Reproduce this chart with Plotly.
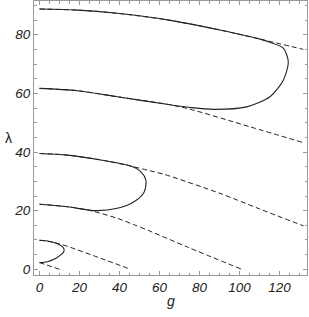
import plotly.graph_objects as go

# Solid tongues (g, lambda), traced from upper start round the tip to lower start
t1_g = [0, 3, 5.6, 8, 9.75, 11.3, 12.25, 12.0, 10.6, 9.0, 7.25, 4.0, 0]
t1_l = [9.9, 9.75, 9.4, 9.0, 8.5, 7.8, 6.9, 5.8, 4.9, 4.1, 3.4, 2.6, 2.25]

t2_g = [0, 13.9, 30.6, 45.6, 50.6, 53.2, 52.3, 47.25, 38.9, 28.1, 13.9, 0]
t2_l = [39.5, 38.95, 37.3, 35.2, 33.3, 30.4, 26.3, 23.05, 20.8, 20.0, 21.35, 22.2]

t3_g = [0, 18.9, 38.9, 65.4, 90.25, 110.25, 115.25, 121.9, 124.4, 121.9, 115.25, 103.6, 86.9, 75.25, 65.4, 38.9, 18.9, 0]
t3_l = [88.75, 88.4, 87.3, 84.9, 81.6, 78.5, 77.4, 75.4, 70.8, 64.5, 58.85, 55.4, 54.55, 55.2, 56.1, 58.85, 60.9, 61.7]

# Dashed curves
d1_g = [0, 10]
d1_l = [2.3, 0]
d2_g = [0, 5.6, 9.75, 13.1, 30.6, 45.6]
d2_l = [9.9, 9.4, 8.7, 8.05, 3.75, 0]
d3_g = [0, 13.9, 30.6, 45.6, 55.25, 62.25, 90.25, 110, 132]
d3_l = [39.5, 38.95, 37.3, 35.2, 33.6, 32.4, 25.9, 20.6, 14.8]
d4_g = [0, 13.9, 25, 38.9, 46.9, 55, 73.6, 101.1]
d4_l = [22.2, 21.35, 20.1, 17.4, 15.3, 13.1, 7.7, 0]
d5_g = [0, 18.9, 38.9, 65.4, 90.25, 110.25, 131.9]
d5_l = [88.75, 88.4, 87.3, 84.9, 81.6, 78.5, 75.0]
d6_g = [0, 18.9, 38.9, 65.4, 75.25, 105.25, 131.9]
d6_l = [61.7, 60.9, 58.85, 56.1, 54.6, 48.6, 43.2]

x_title = "g"
y_title = "λ"

fig = go.Figure()
for gx, ly in [(d1_g, d1_l), (d2_g, d2_l), (d3_g, d3_l), (d4_g, d4_l), (d5_g, d5_l), (d6_g, d6_l)]:
    fig.add_trace(go.Scatter(x=gx, y=ly, mode="lines",
                             line=dict(color="#222", width=1, dash="5px,3px", shape="spline", smoothing=0.8),
                             showlegend=False, hoverinfo="skip"))
for gx, ly in [(t1_g, t1_l), (t2_g, t2_l), (t3_g, t3_l)]:
    fig.add_trace(go.Scatter(x=gx, y=ly, mode="lines",
                             line=dict(color="#222", width=1.1, shape="spline", smoothing=0.8),
                             showlegend=False, hoverinfo="skip"))

tickfont = dict(family="Liberation Sans", size=13.5, color="#222", style="italic")
axis_common = dict(showgrid=False, zeroline=False, showline=True, linecolor="#999", linewidth=1,
                   mirror="ticks", ticks="inside", ticklen=4, tickcolor="#999", tickwidth=1,
                   tickfont=tickfont, automargin=False,
                   minor=dict(ticks="inside", ticklen=2.5, tickcolor="#999", dtick=5, showgrid=False))

fig.update_layout(
    width=309, height=317,
    margin=dict(l=34, r=2, t=1, b=42),
    plot_bgcolor="white", paper_bgcolor="white",
    xaxis=dict(range=[-2.75, 133.75], dtick=20, tick0=0, **axis_common),
    yaxis=dict(range=[-1.94, 91.5], dtick=20, tick0=0, **axis_common),
    annotations=[
        dict(text=x_title, xref="paper", yref="paper", x=0.5, y=-0.095, xanchor="center", yanchor="middle",
             showarrow=False, font=dict(family="Liberation Sans", size=14, color="#222", style="italic")),
        dict(text=y_title, xref="paper", yref="paper", x=-0.095, y=0.5, xanchor="center", yanchor="middle",
             showarrow=False, font=dict(family="Liberation Sans", size=14, color="#222")),
    ],
)
fig.write_html("out.html", config={"displayModeBar": False},
               post_script="document.body.style.margin='0';document.body.style.overflow='hidden';")
